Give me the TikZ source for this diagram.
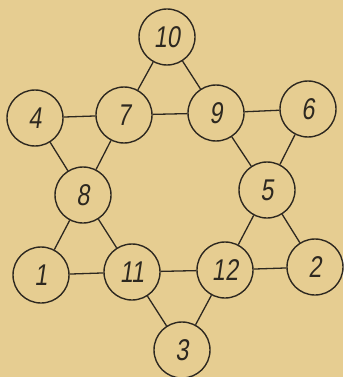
\documentclass[tikz,border=0pt]{standalone}
\usepackage{fontspec}
\setmainfont{Liberation Sans}[FakeSlant=0.15,FakeStretch=0.78]
\definecolor{paper}{RGB}{230,205,145}
\definecolor{ink}{RGB}{45,40,32}
\begin{document}
\begin{tikzpicture}[x=1pt,y=-1pt,
  vert/.style={circle,draw=ink,line width=1.4pt,minimum size=56pt,inner sep=0pt,
    font=\fontsize{30}{30}\selectfont,text=ink},
  edge/.style={draw=ink,line width=1.3pt}]
\fill[paper] (0,0) rectangle (343,377);
\useasboundingbox (0,0) rectangle (343,377);
\node[vert] (n10) at (167,37) {10};
\node[vert] (n4) at (35,118) {4};
\node[vert] (n7) at (124,115) {7};
\node[vert] (n9) at (216,113) {9};
\node[vert] (n6) at (308,109) {6};
\node[vert] (n8) at (83,195) {8};
\node[vert] (n5) at (267,190) {5};
\node[vert] (n1) at (41,275) {1};
\node[vert] (n11) at (132,272) {11};
\node[vert] (n12) at (225,270) {12};
\node[vert] (n2) at (315,267) {2};
\node[vert] (n3) at (182,350) {3};
\foreach \a/\b in {n10/n7,n10/n9,n4/n7,n7/n9,n9/n6,n4/n8,n7/n8,n9/n5,n6/n5,n8/n1,n8/n11,n5/n12,n5/n2,n1/n11,n11/n12,n12/n2,n11/n3,n12/n3}
  \draw[edge] (\a) -- (\b);
\end{tikzpicture}
\end{document}
